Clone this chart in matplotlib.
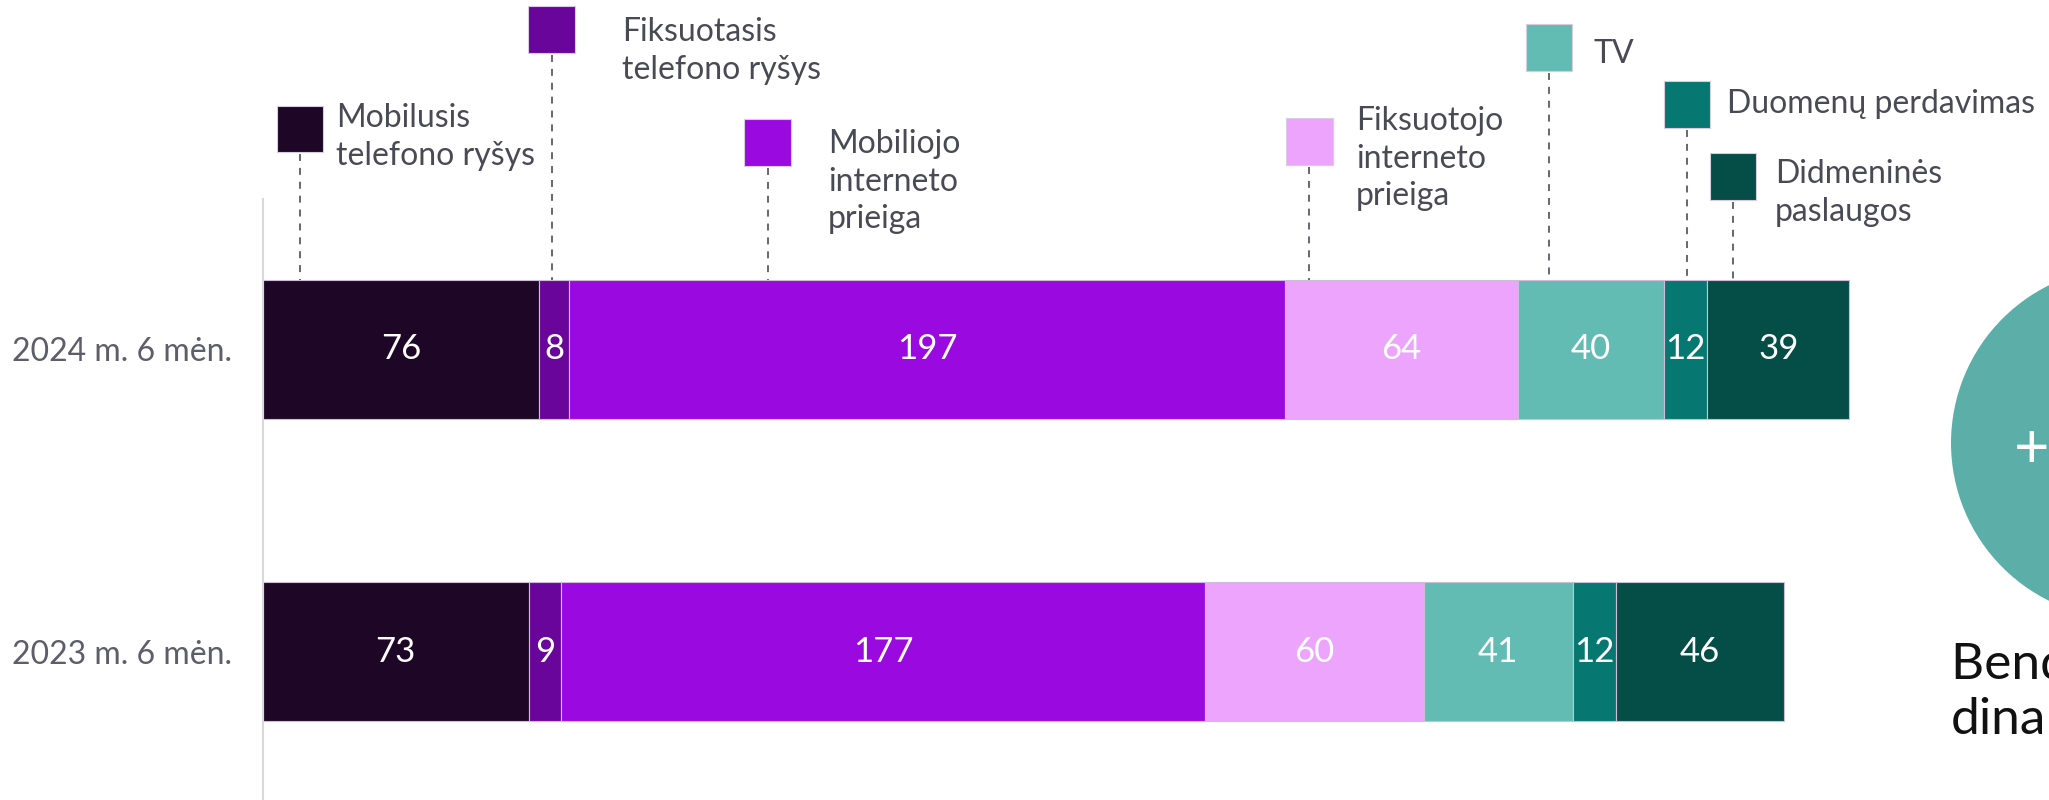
import matplotlib
matplotlib.use("Agg")
import matplotlib.pyplot as plt
from matplotlib.patches import Rectangle, Ellipse

plt.rcParams['font.family'] = ['Lato', 'DejaVu Sans']
plt.rcParams['lines.scale_dashes'] = False

# ---- data ----
periods = ['2024 m. 6 mėn.', '2023 m. 6 mėn.']
categories = ['Mobilusis\ntelefono ryšys', 'Fiksuotasis\ntelefono ryšys',
              'Mobiliojo\ninterneto\nprieiga', 'Fiksuotojo\ninterneto\nprieiga',
              'TV', 'Duomenų perdavimas', 'Didmeninės\npaslaugos']
values_2024 = [76, 8, 197, 64, 40, 12, 39]
values_2023 = [73, 9, 177, 60, 41, 12, 46]
colors = ['#1e0627', '#69059b', '#9a0ae0', '#eca4fc', '#63bcb3', '#077772', '#054e48']

# ---- layout (figure pixels, 2049 x 800) ----
W, H = 2049, 800
X0 = 263            # left of bars
PX_PER_UNIT = 3.638
Y_2024, Y_2023 = 349, 651.5   # bar centres (px from top)
BAR_H_PX = 139
PX_PER_Y = Y_2023 - Y_2024

def ydat(p):
    """pixel-from-top -> data y"""
    return 1 + (Y_2024 - p) / PX_PER_Y

def xdat(p):
    return (p - X0) / PX_PER_UNIT

fig = plt.figure(figsize=(W / 100, H / 100), dpi=100)
ax = fig.add_axes([X0 / W, 0, (W - X0) / W, 1])
ax.set_xlim(0, (W - X0) / PX_PER_UNIT)
ax.set_ylim(ydat(H), ydat(0))

bar_h = BAR_H_PX / PX_PER_Y
rows = [(1, values_2024), (0, values_2023)]
for ypos, vals in rows:
    left = 0
    for v, c in zip(vals, colors):
        ax.barh(ypos, v, left=left, height=bar_h, color=c,
                edgecolor='#cdbdd6', linewidth=0.8)
        ax.text(left + v / 2, ypos, str(v), color='white', fontsize=25,
                ha='center', va='center')
        left += v

# axes styling
for s in ['top', 'right', 'bottom']:
    ax.spines[s].set_visible(False)
ax.spines['left'].set_color('#d9d9d9')
ax.spines['left'].set_linewidth(1.5)
ax.spines['left'].set_bounds(ydat(H), ydat(199))
ax.set_xticks([])
ax.set_yticks([1, 0])
ax.set_yticklabels(periods, fontsize=23, color='#5e5e6a')
ax.tick_params(axis='y', length=0, pad=22)

# ---- legend call-outs ----
line_x = [xdat(p) for p in [300, 551.7, 767.7, 1309.4, 1549, 1687, 1733]]
sq_top = [105.7, 6, 119, 118, 24, 81, 153]
text_x = [xdat(p) for p in [336, 621.7, 828, 1356, 1594, 1727, 1775]]
base1 = [127, 41, 153, 130, 63, 113, 183]
SQ = 46.5
LINE_SP = 37.7
bar_top = Y_2024 - BAR_H_PX / 2

for lab, c, lx, st, tx, b in zip(categories, colors, line_x, sq_top, text_x, base1):
    sw = SQ / PX_PER_UNIT
    sh = SQ / PX_PER_Y
    ax.add_patch(Rectangle((lx - sw / 2, ydat(st + SQ)), sw, sh, facecolor=c,
                           edgecolor='#d8cce0', linewidth=0.8, clip_on=False))
    ln, = ax.plot([lx, lx], [ydat(st + SQ + 2), ydat(bar_top)], color='#6a6a74',
                  linewidth=1.45, clip_on=False)
    ln.set_dashes([5, 5])
    for i, line in enumerate(lab.split('\n')):
        ax.text(tx, ydat(b + i * LINE_SP), line, fontsize=23, color='#4a4a55',
                ha='left', va='baseline', clip_on=False)

# ---- right-hand circle (cropped) ----
fig.add_artist(Ellipse((2127 / W, 1 - 443 / H), 352 / W, 352 / H,
                       transform=fig.transFigure, facecolor='#5cafa8',
                       edgecolor='none'))
fig.text(2032 / W, 1 - 450 / H, '+', color='white', fontsize=44,
         ha='center', va='center')
fig.text(1951 / W, 1 - 678 / H, 'Bendrųjų pajamų', color='#111111',
         fontsize=37, ha='left', va='baseline')
fig.text(1951 / W, 1 - 734 / H, 'dinamika', color='#111111',
         fontsize=37, ha='left', va='baseline')

fig.savefig('out.png', dpi=100, facecolor='white')
